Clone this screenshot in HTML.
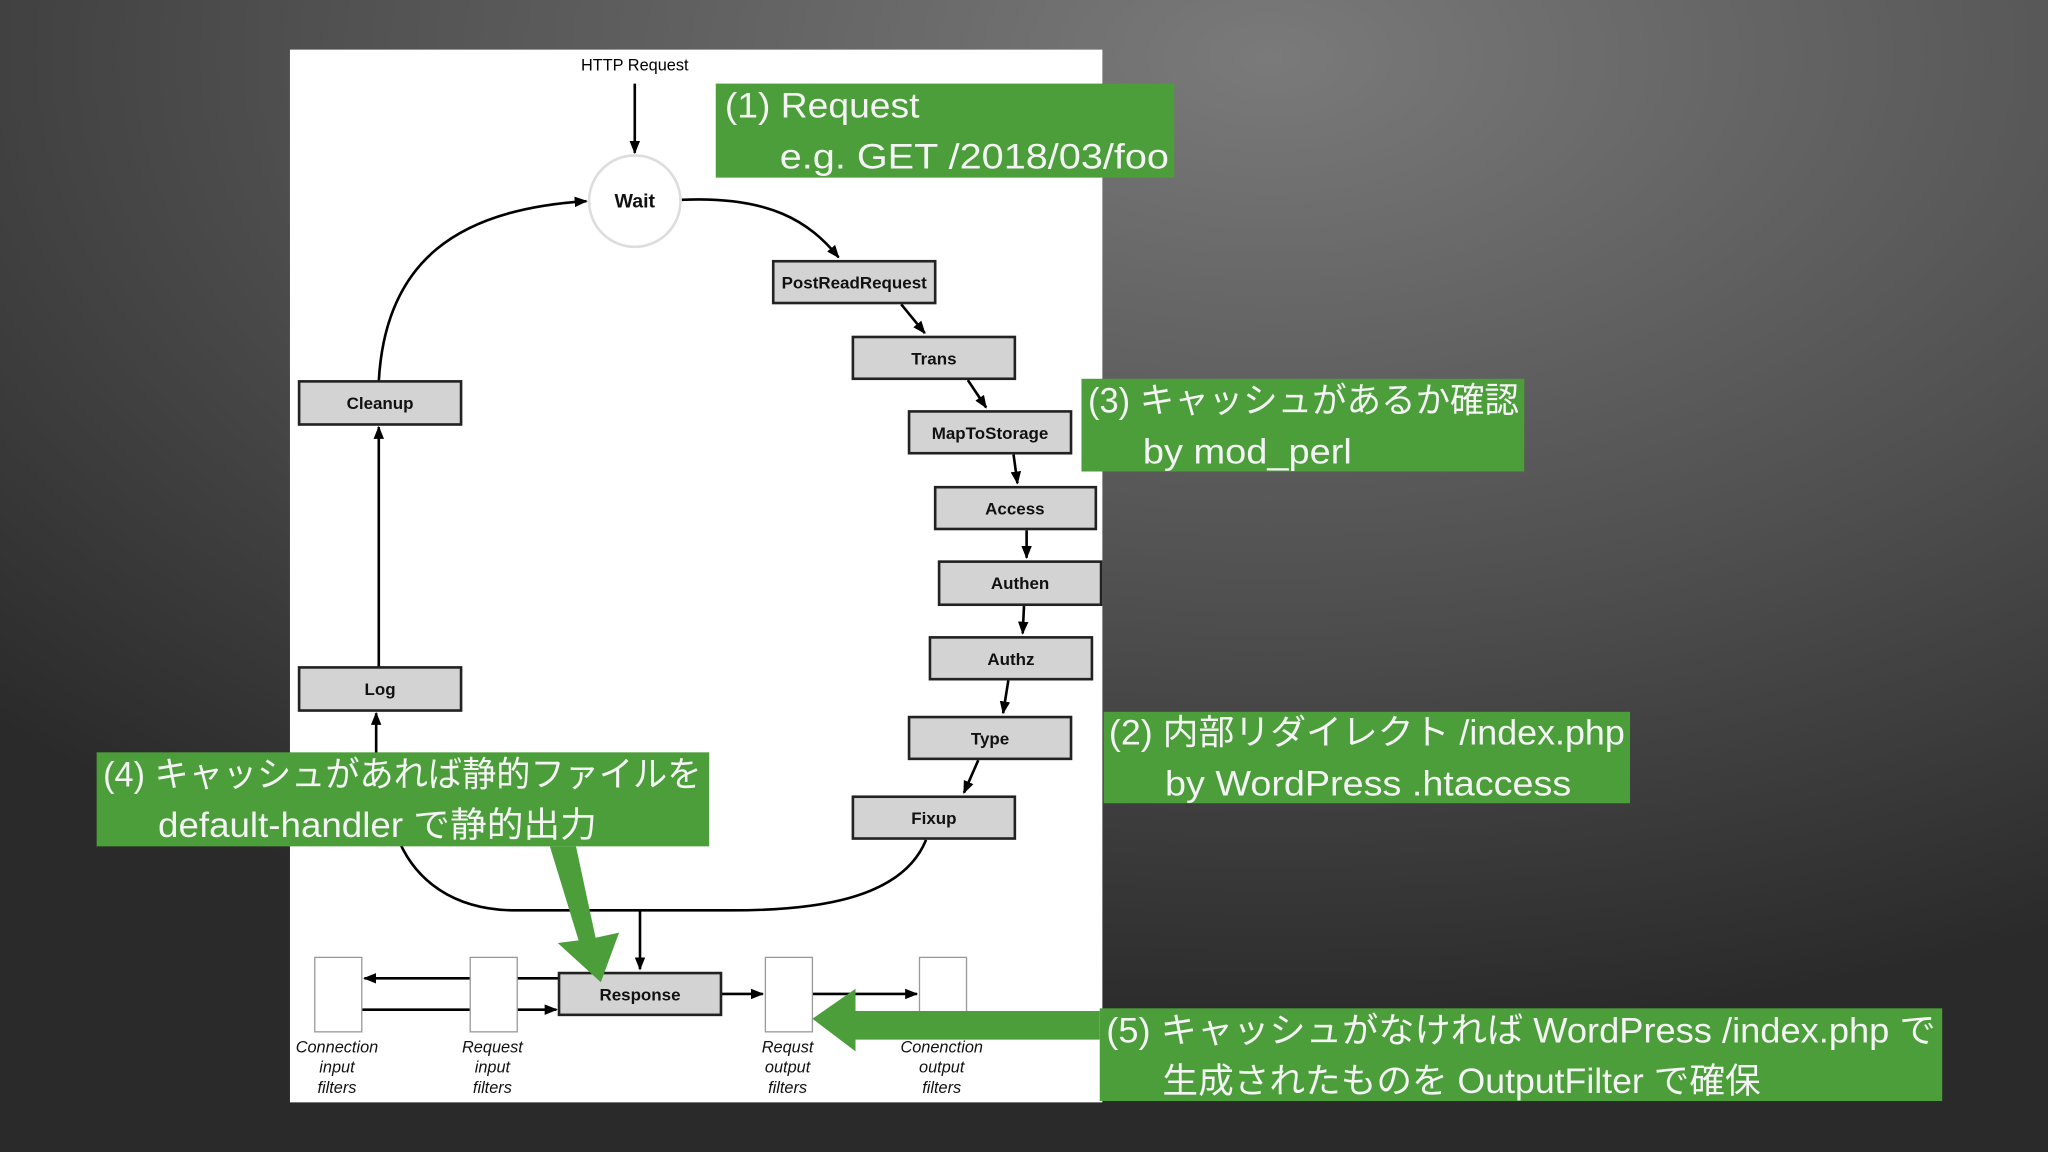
<!DOCTYPE html>
<html><head><meta charset="utf-8"><style>
html,body{margin:0;padding:0;width:2048px;height:1152px;overflow:hidden;background:#333}
svg{display:block}
.g{font-family:"Liberation Sans","Noto Sans CJK JP",sans-serif;font-size:27px;fill:#f4f4f4}
.b{font-family:"Liberation Sans",sans-serif;font-size:13px;font-weight:bold;fill:#111;text-anchor:middle}
.f{font-family:"Liberation Sans",sans-serif;font-size:12.5px;font-style:italic;fill:#111;text-anchor:middle}
</style></head><body>
<svg width="2048" height="1152" viewBox="0 0 1568 882" xmlns="http://www.w3.org/2000/svg">
<defs>
<radialGradient id="bg" cx="0.62" cy="0.05" r="0.85">
<stop offset="0" stop-color="#7a7a7a"/><stop offset="0.55" stop-color="#505050"/><stop offset="1" stop-color="#2a2a2a"/>
</radialGradient>
<marker id="a" markerWidth="10" markerHeight="8" refX="9" refY="4" orient="auto" markerUnits="userSpaceOnUse">
<path d="M0,0 L10,4 L0,8 Z" fill="#000"/></marker>
</defs>
<rect width="1568" height="882" fill="url(#bg)"/>
<rect x="222" y="38" width="622" height="806" fill="#fff"/>
<g stroke="#000" stroke-width="2" fill="none">
<line x1="486" y1="64" x2="486" y2="117" marker-end="url(#a)"/>
<path d="M522,153 C590,150 620,170 642,197" marker-end="url(#a)"/>
<path d="M290,292 C295,200 350,160 449,154" marker-end="url(#a)"/>
<line x1="690" y1="233" x2="708" y2="255" marker-end="url(#a)"/>
<line x1="741" y1="291" x2="755" y2="312" marker-end="url(#a)"/>
<line x1="776" y1="348" x2="779" y2="370" marker-end="url(#a)"/>
<line x1="786" y1="406" x2="786" y2="427" marker-end="url(#a)"/>
<line x1="784" y1="464" x2="783" y2="485" marker-end="url(#a)"/>
<line x1="772" y1="521" x2="768" y2="546" marker-end="url(#a)"/>
<line x1="749" y1="582" x2="738" y2="607" marker-end="url(#a)"/>
<line x1="290" y1="511" x2="290" y2="327" marker-end="url(#a)"/>
<line x1="288" y1="578" x2="288" y2="546" marker-end="url(#a)"/>
<path d="M709,643 C690,690 620,697 560,697 L395,697 C345,697 318,672 306,645"/>
<line x1="490" y1="697" x2="490" y2="742" marker-end="url(#a)"/>
<line x1="360" y1="749" x2="279" y2="749" marker-end="url(#a)"/>
<line x1="396" y1="749" x2="428" y2="749"/>
<line x1="277" y1="773" x2="426" y2="773" marker-end="url(#a)"/>
<line x1="552" y1="761" x2="584" y2="761" marker-end="url(#a)"/>
<line x1="622" y1="761" x2="702" y2="761" marker-end="url(#a)"/>
</g>
<circle cx="486" cy="154" r="35" fill="#fff" stroke="#ddd" stroke-width="2"/>
<text x="486" y="159" class="b" style="font-size:15px">Wait</text>
<text x="486" y="54" font-family="Liberation Sans" font-size="12.5" text-anchor="middle">HTTP Request</text>
<g fill="#d3d3d3" stroke="#222" stroke-width="2">
<rect x="592" y="200" width="124" height="32"/>
<rect x="653" y="258" width="124" height="32"/>
<rect x="696" y="315" width="124" height="32"/>
<rect x="716" y="373" width="123" height="32"/>
<rect x="719" y="430" width="124" height="33"/>
<rect x="712" y="488" width="124" height="32"/>
<rect x="696" y="549" width="124" height="32"/>
<rect x="653" y="610" width="124" height="32"/>
<rect x="229" y="292" width="124" height="33"/>
<rect x="229" y="511" width="124" height="33"/>
<rect x="428" y="745" width="124" height="32"/>
</g>
<text x="654" y="221" class="b">PostReadRequest</text>
<text x="715" y="279" class="b">Trans</text>
<text x="758" y="336" class="b">MapToStorage</text>
<text x="777" y="394" class="b">Access</text>
<text x="781" y="451" class="b">Authen</text>
<text x="774" y="509" class="b">Authz</text>
<text x="758" y="570" class="b">Type</text>
<text x="715" y="631" class="b">Fixup</text>
<text x="291" y="313" class="b">Cleanup</text>
<text x="291" y="532" class="b">Log</text>
<text x="490" y="766" class="b">Response</text>
<g fill="#fff" stroke="#999" stroke-width="1">
<rect x="241" y="733" width="36" height="57"/>
<rect x="360" y="733" width="36" height="57"/>
<rect x="586" y="733" width="36" height="57"/>
<rect x="704" y="733" width="36" height="57"/>
</g>
<text class="f"><tspan x="258" y="806">Connection</tspan><tspan x="258" y="821">input</tspan><tspan x="258" y="837">filters</tspan></text>
<text class="f"><tspan x="377" y="806">Request</tspan><tspan x="377" y="821">input</tspan><tspan x="377" y="837">filters</tspan></text>
<text class="f"><tspan x="603" y="806">Requst</tspan><tspan x="603" y="821">output</tspan><tspan x="603" y="837">filters</tspan></text>
<text class="f"><tspan x="721" y="806">Conenction</tspan><tspan x="721" y="821">output</tspan><tspan x="721" y="837">filters</tspan></text>
<g fill="#4b9e3a">
<rect x="548" y="64" width="351" height="72"/>
<rect x="828" y="290" width="339" height="71"/>
<rect x="845" y="545" width="403" height="70"/>
<rect x="74" y="576" width="469" height="72"/>
<rect x="842" y="772" width="645" height="71"/>
<polygon points="421,648 441,648 456,718 474,714 460,752 427,722 443,720"/>
<polygon points="842,774 655,774 655,757 622,780 655,805 655,796 842,796"/>
</g>
<text class="g" x="555" y="90" textLength="149" lengthAdjust="spacingAndGlyphs">(1) Request</text>
<text class="g" x="597" y="129" textLength="298" lengthAdjust="spacingAndGlyphs">e.g. GET /2018/03/foo</text>
<text class="g" x="833" y="316" textLength="330" lengthAdjust="spacingAndGlyphs">(3) キャッシュがあるか確認</text>
<text class="g" x="875" y="355" textLength="160" lengthAdjust="spacingAndGlyphs">by mod_perl</text>
<text class="g" x="849" y="570" textLength="395" lengthAdjust="spacingAndGlyphs">(2) 内部リダイレクト /index.php</text>
<text class="g" x="892" y="609" textLength="311" lengthAdjust="spacingAndGlyphs">by WordPress .htaccess</text>
<text class="g" x="79" y="602" textLength="458" lengthAdjust="spacingAndGlyphs">(4) キャッシュがあれば静的ファイルを</text>
<text class="g" x="121" y="641" textLength="336" lengthAdjust="spacingAndGlyphs">default-handler で静的出力</text>
<text class="g" x="847" y="798" textLength="635" lengthAdjust="spacingAndGlyphs">(5) キャッシュがなければ WordPress /index.php で</text>
<text class="g" x="890" y="837" textLength="458" lengthAdjust="spacingAndGlyphs">生成されたものを OutputFilter で確保</text>
</svg>
</body></html>
